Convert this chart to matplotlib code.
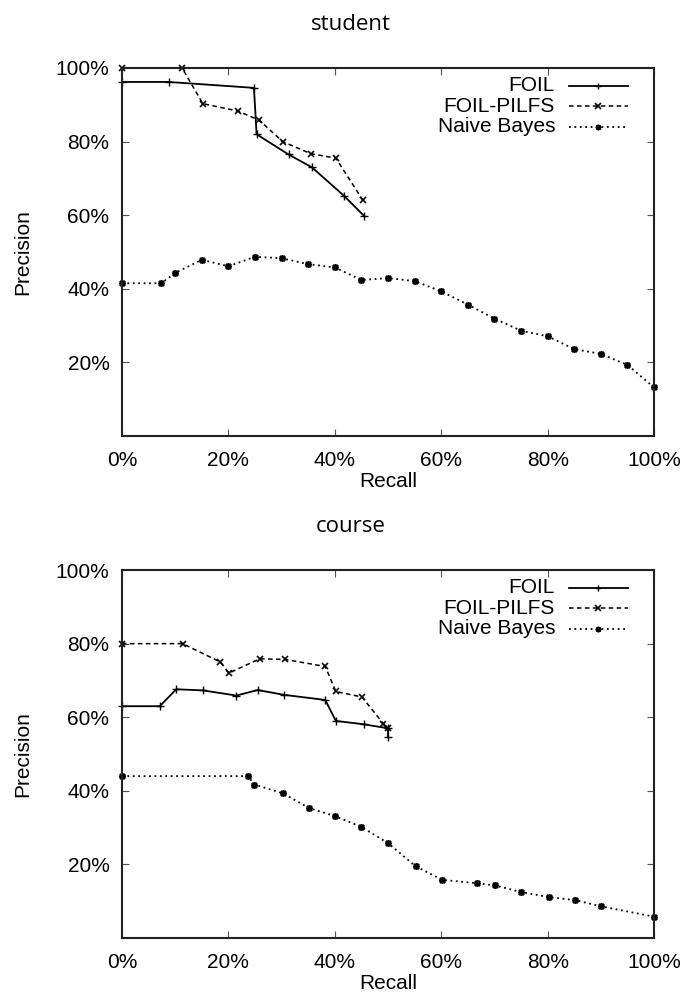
import numpy as np
import matplotlib
matplotlib.use("Agg")
import matplotlib.pyplot as plt
from matplotlib.ticker import FuncFormatter

plt.rcParams['font.family'] = ['Liberation Sans', 'DejaVu Sans']

# recall / precision values (percent)
student_foil_r = [0, 8.8, 24.8, 25.3, 31.3, 35.7, 41.7, 45.5]
student_foil_p = [96.2, 96.2, 94.6, 82.0, 76.5, 73.0, 65.3, 59.8]
student_pilfs_r = [0, 11.3, 15.2, 21.8, 25.8, 30.2, 35.5, 40.2, 45.3]
student_pilfs_p = [100, 100, 90.3, 88.3, 85.8, 80.0, 76.7, 75.5, 64.0]
student_nb_r = [0, 7.4, 10, 15, 20, 25, 30, 35, 40, 45, 50,
                55, 60, 65, 70, 75, 80, 85, 90, 95, 100]
student_nb_p = [41.5, 41.5, 44.3, 47.9, 46.1, 48.7, 48.3, 46.7, 45.8, 42.4, 42.9,
                42.1, 39.3, 35.7, 31.9, 28.6, 27.1, 23.6, 22.3, 19.3, 13.2]

course_foil_r = [0, 7.1, 10.2, 15.2, 21.5, 25.5, 30.4, 38.2, 40.2, 45.4, 50.0, 50.0]
course_foil_p = [63.0, 63.0, 67.6, 67.3, 65.9, 67.4, 66.1, 64.7, 59.0, 58.1, 57.0, 54.7]
course_pilfs_r = [0, 11.4, 18.5, 20.1, 25.9, 30.7, 38.2, 40.2, 45.1, 49.1, 50.0]
course_pilfs_p = [80, 80, 75.0, 72.0, 75.9, 75.7, 73.8, 67.0, 65.5, 58.3, 57.0]
course_nb_r = [0, 23.7, 24.9, 30.3, 35.2, 40.1, 45.0, 50.0, 55.2, 60.2,
               66.8, 70.1, 75.0, 80.3, 85.2, 90.1, 100]
course_nb_p = [44.0, 44.0, 41.7, 39.3, 35.3, 33.1, 30.2, 25.8, 19.5, 15.8,
               14.9, 14.3, 12.5, 11.1, 10.3, 8.6, 5.8]

labels = ["FOIL", "FOIL-PILFS", "Naive Bayes"]
x_ticks = [0, 20, 40, 60, 80, 100]
y_ticks = [20, 40, 60, 80, 100]

STYLES = [
    dict(color='black', lw=1.3, ls='-', marker='+', ms=6, mew=1.0),
    dict(color='black', lw=1.1, ls=(0, (3, 2.2)), marker='x', ms=5, mew=1.2),
    dict(color='black', lw=1.3, ls=(0, (1, 2)), marker=(8, 2, 0), ms=5, mew=1.2),
]

pct = FuncFormatter(lambda v, _: f"{v:.0f}%")


def draw_panel(ax, series, title, title_y):
    for (r, p), st in zip(series, STYLES):
        ax.plot(r, p, clip_on=False, **st)

    ax.set_xlim(0, 100)
    ax.set_ylim(0, 100)
    ax.set_xticks(x_ticks)
    ax.set_yticks(y_ticks)
    ax.xaxis.set_major_formatter(pct)
    ax.yaxis.set_major_formatter(pct)
    ax.tick_params(direction='in', length=5, width=0.8, color='#555555',
                   top=True, right=True, labelsize=15)
    ax.tick_params(axis='x', pad=11)
    ax.tick_params(axis='y', pad=9)
    for s in ax.spines.values():
        s.set_linewidth(1.5)
        s.set_color('#222222')
    ax.set_xlabel("Recall", fontsize=15, labelpad=1)
    ax.set_ylabel("Precision", fontsize=15, labelpad=17)

    # gnuplot-style key: label right-aligned, sample to its right
    rows = [0.952, 0.896, 0.840]
    for lab, st, yy in zip(labels, STYLES, rows):
        ax.text(0.814, yy, lab, transform=ax.transAxes, ha='right', va='center',
                fontsize=15)
        line_st = {k: v for k, v in st.items() if k not in ('marker', 'ms', 'mew')}
        ax.plot([0.840, 0.951], [yy, yy], transform=ax.transAxes, clip_on=False,
                **line_st)
        ax.plot([0.8955], [yy], transform=ax.transAxes, clip_on=False,
                ls='none', color='black', marker=st['marker'], ms=st['ms'] - 1,
                mew=st['mew'])

    ax.figure.text(0.514, title_y, title, ha='center', va='center',
                   fontsize=16, family=['Open Sans', 'DejaVu Sans'])


fig = plt.figure(figsize=(6.83, 9.94), dpi=100)
ax1 = fig.add_axes([0.1786, 0.5614, 0.779, 0.3702])
ax2 = fig.add_axes([0.1786, 0.0563, 0.779, 0.3702])

draw_panel(ax1, [(student_foil_r, student_foil_p),
                 (student_pilfs_r, student_pilfs_p),
                 (student_nb_r, student_nb_p)], "student", 0.975)
draw_panel(ax2, [(course_foil_r, course_foil_p),
                 (course_pilfs_r, course_pilfs_p),
                 (course_nb_r, course_nb_p)], "course", 0.470)

fig.savefig("out.png", dpi=100)
plt.close(fig)
